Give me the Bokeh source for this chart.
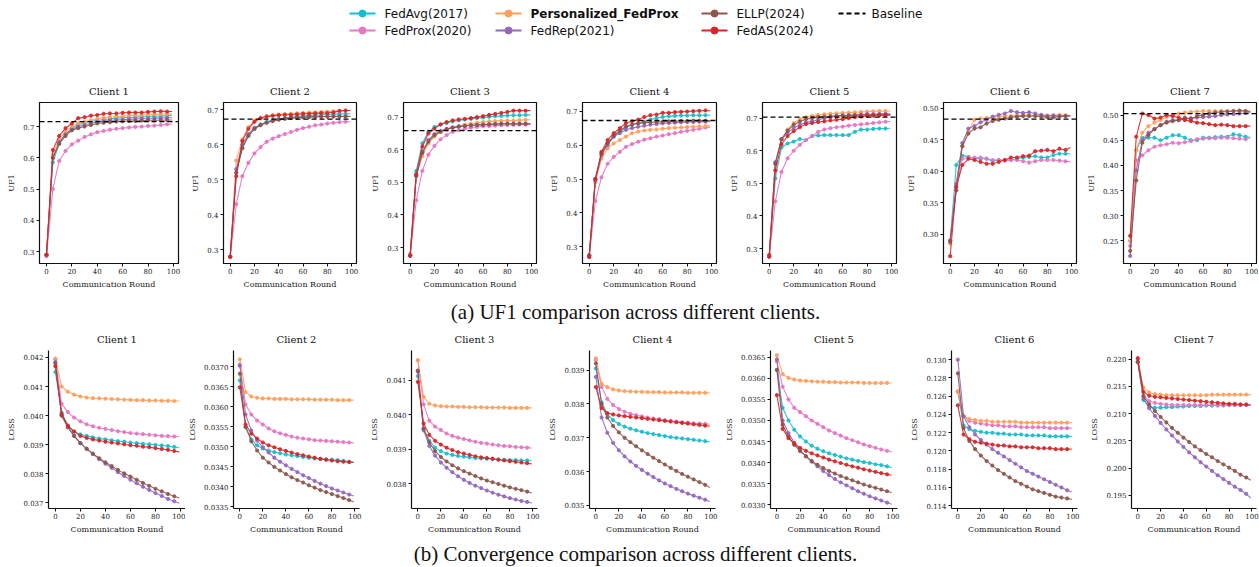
from bokeh.plotting import figure
from bokeh.layouts import column, row
from bokeh.models import Range1d, FixedTicker, NumeralTickFormatter, Span
from bokeh.core.properties import value
from bokeh.embed import file_html
from bokeh.resources import INLINE

# ---------------- data ----------------
ROUNDS = [0, 5, 10, 15, 20, 25, 30, 35, 40, 45, 50, 55, 60, 65, 70, 75, 80, 85, 90, 95, 99]
X_TICKS = [0, 20, 40, 60, 80, 100]
METHODS = ["FedAvg(2017)", "FedProx(2020)", "Personalized_FedProx", "FedRep(2021)", "ELLP(2024)", "FedAS(2024)"]
COLORS = ["#17becf", "#e377c2", "#ff9f5b", "#9467bd", "#8c564b", "#d62728"]
CLIENTS = ["Client 1", "Client 2", "Client 3", "Client 4", "Client 5", "Client 6", "Client 7"]
BASELINE_LABEL = "Baseline"
CAPTION_A = "(a) UF1 comparison across different clients."
CAPTION_B = "(b) Convergence comparison across different clients."

UF1_BASELINE = [0.716, 0.6725, 0.659, 0.6725, 0.703, 0.483, 0.503]

# UF1, Client 1 .. 7
UF1_C1_FEDAVG = [0.29, 0.585, 0.645, 0.675, 0.695, 0.705, 0.712, 0.716, 0.72, 0.722, 0.725, 0.727, 0.728, 0.729, 0.73, 0.731, 0.732, 0.733, 0.734, 0.735, 0.736]
UF1_C1_FEDPROX = [0.285, 0.50, 0.59, 0.622, 0.643, 0.655, 0.667, 0.675, 0.682, 0.686, 0.69, 0.693, 0.695, 0.697, 0.699, 0.70, 0.702, 0.703, 0.705, 0.707, 0.708]
UF1_C1_PFEDPROX = [0.29, 0.61, 0.66, 0.685, 0.70, 0.71, 0.715, 0.72, 0.725, 0.728, 0.73, 0.732, 0.733, 0.735, 0.736, 0.737, 0.738, 0.739, 0.74, 0.74, 0.74]
UF1_C1_FEDREP = [0.29, 0.60, 0.65, 0.675, 0.69, 0.70, 0.705, 0.71, 0.715, 0.717, 0.72, 0.721, 0.722, 0.723, 0.724, 0.725, 0.726, 0.727, 0.727, 0.728, 0.728]
UF1_C1_ELLP = [0.29, 0.60, 0.645, 0.67, 0.688, 0.695, 0.70, 0.705, 0.71, 0.712, 0.714, 0.716, 0.717, 0.718, 0.718, 0.719, 0.72, 0.72, 0.72, 0.721, 0.721]
UF1_C1_FEDAS = [0.29, 0.625, 0.67, 0.695, 0.71, 0.727, 0.73, 0.735, 0.737, 0.741, 0.742, 0.742, 0.744, 0.745, 0.745, 0.745, 0.747, 0.748, 0.749, 0.748, 0.748]

UF1_C2_FEDAVG = [0.28, 0.52, 0.59, 0.625, 0.645, 0.657, 0.665, 0.67, 0.673, 0.676, 0.678, 0.68, 0.682, 0.683, 0.684, 0.685, 0.686, 0.687, 0.687, 0.688, 0.688]
UF1_C2_FEDPROX = [0.28, 0.43, 0.51, 0.548, 0.575, 0.593, 0.608, 0.617, 0.624, 0.63, 0.636, 0.642, 0.647, 0.651, 0.655, 0.657, 0.66, 0.662, 0.664, 0.665, 0.665]
UF1_C2_PFEDPROX = [0.28, 0.555, 0.615, 0.65, 0.668, 0.677, 0.681, 0.684, 0.686, 0.687, 0.688, 0.689, 0.69, 0.691, 0.692, 0.693, 0.694, 0.695, 0.696, 0.697, 0.698]
UF1_C2_FEDREP = [0.28, 0.53, 0.60, 0.63, 0.648, 0.657, 0.663, 0.668, 0.672, 0.674, 0.676, 0.677, 0.678, 0.679, 0.68, 0.68, 0.68, 0.681, 0.681, 0.681, 0.681]
UF1_C2_ELLP = [0.28, 0.52, 0.59, 0.625, 0.645, 0.655, 0.662, 0.667, 0.671, 0.674, 0.676, 0.677, 0.678, 0.679, 0.679, 0.68, 0.68, 0.68, 0.68, 0.68, 0.68]
UF1_C2_FEDAS = [0.28, 0.51, 0.61, 0.645, 0.665, 0.675, 0.68, 0.682, 0.684, 0.685, 0.685, 0.686, 0.688, 0.688, 0.689, 0.69, 0.69, 0.692, 0.696, 0.697, 0.697]

UF1_C3_FEDAVG = [0.28, 0.535, 0.62, 0.655, 0.67, 0.677, 0.682, 0.687, 0.69, 0.693, 0.695, 0.697, 0.699, 0.701, 0.703, 0.704, 0.705, 0.706, 0.706, 0.707, 0.707]
UF1_C3_FEDPROX = [0.275, 0.445, 0.535, 0.585, 0.612, 0.632, 0.645, 0.655, 0.66, 0.665, 0.668, 0.67, 0.672, 0.673, 0.674, 0.675, 0.676, 0.676, 0.677, 0.677, 0.677]
UF1_C3_PFEDPROX = [0.28, 0.52, 0.58, 0.62, 0.64, 0.655, 0.663, 0.668, 0.673, 0.677, 0.68, 0.683, 0.685, 0.687, 0.688, 0.689, 0.69, 0.69, 0.691, 0.692, 0.692]
UF1_C3_FEDREP = [0.275, 0.52, 0.595, 0.63, 0.648, 0.658, 0.664, 0.668, 0.671, 0.673, 0.675, 0.676, 0.677, 0.678, 0.679, 0.679, 0.68, 0.68, 0.68, 0.68, 0.68]
UF1_C3_ELLP = [0.275, 0.52, 0.59, 0.625, 0.645, 0.655, 0.663, 0.668, 0.671, 0.673, 0.675, 0.676, 0.677, 0.678, 0.679, 0.68, 0.68, 0.68, 0.68, 0.68, 0.68]
UF1_C3_FEDAS = [0.275, 0.525, 0.61, 0.65, 0.665, 0.678, 0.685, 0.69, 0.693, 0.695, 0.697, 0.70, 0.703, 0.707, 0.71, 0.713, 0.716, 0.72, 0.72, 0.72, 0.72]

UF1_C4_FEDAVG = [0.275, 0.50, 0.575, 0.605, 0.625, 0.64, 0.652, 0.66, 0.665, 0.668, 0.675, 0.68, 0.683, 0.685, 0.686, 0.687, 0.687, 0.688, 0.688, 0.688, 0.688]
UF1_C4_FEDPROX = [0.27, 0.435, 0.505, 0.545, 0.565, 0.58, 0.595, 0.603, 0.61, 0.616, 0.62, 0.625, 0.628, 0.632, 0.635, 0.639, 0.642, 0.645, 0.648, 0.652, 0.653]
UF1_C4_PFEDPROX = [0.275, 0.49, 0.56, 0.59, 0.605, 0.615, 0.625, 0.635, 0.64, 0.643, 0.645, 0.646, 0.648, 0.65, 0.651, 0.652, 0.653, 0.654, 0.655, 0.656, 0.657]
UF1_C4_FEDREP = [0.275, 0.495, 0.57, 0.60, 0.625, 0.635, 0.645, 0.65, 0.654, 0.657, 0.66, 0.662, 0.664, 0.665, 0.666, 0.667, 0.668, 0.668, 0.669, 0.669, 0.67]
UF1_C4_ELLP = [0.275, 0.50, 0.575, 0.605, 0.628, 0.643, 0.655, 0.66, 0.664, 0.666, 0.667, 0.668, 0.669, 0.67, 0.67, 0.671, 0.671, 0.672, 0.672, 0.672, 0.672]
UF1_C4_FEDAS = [0.27, 0.50, 0.58, 0.615, 0.635, 0.65, 0.665, 0.67, 0.675, 0.683, 0.688, 0.69, 0.695, 0.695, 0.697, 0.698, 0.699, 0.70, 0.701, 0.702, 0.701]

UF1_C5_FEDAVG = [0.275, 0.515, 0.61, 0.622, 0.628, 0.636, 0.633, 0.645, 0.647, 0.648, 0.648, 0.648, 0.648, 0.648, 0.658, 0.665, 0.665, 0.667, 0.668, 0.668, 0.669]
UF1_C5_FEDPROX = [0.275, 0.445, 0.535, 0.577, 0.60, 0.618, 0.633, 0.645, 0.658, 0.665, 0.669, 0.672, 0.674, 0.677, 0.679, 0.681, 0.683, 0.685, 0.687, 0.689, 0.69]
UF1_C5_PFEDPROX = [0.28, 0.56, 0.635, 0.665, 0.685, 0.697, 0.703, 0.707, 0.71, 0.712, 0.714, 0.715, 0.716, 0.717, 0.718, 0.719, 0.72, 0.721, 0.722, 0.722, 0.722]
UF1_C5_FEDREP = [0.28, 0.565, 0.635, 0.655, 0.67, 0.68, 0.687, 0.69, 0.695, 0.70, 0.703, 0.706, 0.708, 0.709, 0.71, 0.711, 0.712, 0.712, 0.713, 0.713, 0.713]
UF1_C5_ELLP = [0.28, 0.56, 0.635, 0.662, 0.68, 0.69, 0.697, 0.70, 0.703, 0.705, 0.706, 0.707, 0.708, 0.708, 0.709, 0.709, 0.71, 0.71, 0.71, 0.71, 0.71]
UF1_C5_FEDAS = [0.275, 0.54, 0.62, 0.645, 0.66, 0.672, 0.682, 0.685, 0.688, 0.69, 0.693, 0.695, 0.697, 0.70, 0.703, 0.705, 0.707, 0.708, 0.709, 0.71, 0.71]

UF1_C6_FEDAVG = [0.29, 0.41, 0.425, 0.423, 0.42, 0.42, 0.42, 0.416, 0.418, 0.418, 0.418, 0.42, 0.422, 0.423, 0.424, 0.422, 0.422, 0.426, 0.428, 0.428, 0.428]
UF1_C6_FEDPROX = [0.29, 0.37, 0.42, 0.422, 0.422, 0.422, 0.42, 0.418, 0.418, 0.417, 0.418, 0.418, 0.416, 0.414, 0.416, 0.418, 0.418, 0.418, 0.417, 0.416, 0.415]
UF1_C6_PFEDPROX = [0.285, 0.38, 0.44, 0.465, 0.482, 0.484, 0.485, 0.486, 0.487, 0.488, 0.488, 0.489, 0.489, 0.49, 0.488, 0.489, 0.489, 0.489, 0.49, 0.489, 0.489]
UF1_C6_FEDREP = [0.29, 0.38, 0.445, 0.468, 0.472, 0.478, 0.482, 0.487, 0.49, 0.492, 0.496, 0.494, 0.493, 0.494, 0.492, 0.49, 0.488, 0.489, 0.488, 0.488, 0.488]
UF1_C6_ELLP = [0.288, 0.37, 0.44, 0.46, 0.468, 0.47, 0.476, 0.48, 0.482, 0.484, 0.486, 0.487, 0.488, 0.488, 0.488, 0.487, 0.486, 0.486, 0.487, 0.488, 0.488]
UF1_C6_FEDAS = [0.265, 0.375, 0.41, 0.42, 0.418, 0.415, 0.412, 0.412, 0.415, 0.418, 0.422, 0.422, 0.424, 0.425, 0.432, 0.433, 0.434, 0.432, 0.436, 0.434, 0.438]

UF1_C7_FEDAVG = [0.25, 0.43, 0.455, 0.455, 0.455, 0.45, 0.455, 0.46, 0.46, 0.455, 0.45, 0.45, 0.455, 0.455, 0.456, 0.457, 0.457, 0.462, 0.46, 0.457, 0.456]
UF1_C7_FEDPROX = [0.24, 0.41, 0.42, 0.43, 0.437, 0.44, 0.442, 0.445, 0.444, 0.446, 0.448, 0.452, 0.453, 0.454, 0.454, 0.455, 0.455, 0.454, 0.453, 0.452, 0.455]
UF1_C7_PFEDPROX = [0.25, 0.43, 0.465, 0.478, 0.485, 0.49, 0.496, 0.50, 0.503, 0.505, 0.506, 0.507, 0.508, 0.508, 0.508, 0.508, 0.508, 0.508, 0.508, 0.508, 0.508]
UF1_C7_FEDREP = [0.22, 0.39, 0.45, 0.465, 0.472, 0.48, 0.487, 0.49, 0.49, 0.492, 0.494, 0.495, 0.496, 0.497, 0.498, 0.50, 0.501, 0.502, 0.503, 0.504, 0.505]
UF1_C7_ELLP = [0.23, 0.37, 0.445, 0.46, 0.472, 0.48, 0.485, 0.488, 0.49, 0.495, 0.492, 0.498, 0.50, 0.503, 0.505, 0.506, 0.507, 0.508, 0.509, 0.508, 0.507]
UF1_C7_FEDAS = [0.26, 0.457, 0.503, 0.50, 0.493, 0.495, 0.50, 0.498, 0.495, 0.49, 0.488, 0.485, 0.484, 0.482, 0.48, 0.481, 0.48, 0.478, 0.478, 0.478, 0.478]

# LOSS, Client 1 .. 7
LOSS_C1_FEDAVG = [0.0415, 0.0401, 0.03965, 0.03945, 0.03935, 0.0393, 0.03925, 0.03921, 0.03918, 0.03915, 0.03912, 0.0391, 0.03907, 0.03905, 0.03903, 0.03901, 0.03899, 0.03897, 0.03895, 0.03892, 0.03889]
LOSS_C1_FEDPROX = [0.04195, 0.0404, 0.04012, 0.03993, 0.0398, 0.0397, 0.03963, 0.03958, 0.03954, 0.0395, 0.03946, 0.03943, 0.0394, 0.03938, 0.03936, 0.03934, 0.03932, 0.0393, 0.03929, 0.03928, 0.03927]
LOSS_C1_PFEDPROX = [0.04195, 0.041, 0.04082, 0.04072, 0.04066, 0.04062, 0.0406, 0.04059, 0.04058, 0.04057, 0.04056, 0.04055, 0.04054, 0.04053, 0.04053, 0.04052, 0.04052, 0.04051, 0.04051, 0.0405, 0.0405]
LOSS_C1_FEDREP = [0.04185, 0.04, 0.0396, 0.0393, 0.03905, 0.03885, 0.03867, 0.0385, 0.03834, 0.0382, 0.03805, 0.03792, 0.03779, 0.03767, 0.03755, 0.03744, 0.03733, 0.03723, 0.03713, 0.03705, 0.03698]
LOSS_C1_ELLP = [0.0418, 0.04, 0.0396, 0.0393, 0.03905, 0.03886, 0.03869, 0.03853, 0.03839, 0.03826, 0.03813, 0.03801, 0.0379, 0.03779, 0.03768, 0.03758, 0.03748, 0.03739, 0.0373, 0.03722, 0.03716]
LOSS_C1_FEDAS = [0.0417, 0.04005, 0.03965, 0.03945, 0.0393, 0.03923, 0.03918, 0.03914, 0.0391, 0.03907, 0.03904, 0.03901, 0.03898, 0.03896, 0.03893, 0.03891, 0.03888, 0.03885, 0.03882, 0.03878, 0.03875]

LOSS_C2_FEDAVG = [0.03665, 0.03548, 0.03518, 0.03503, 0.03495, 0.0349, 0.03486, 0.03483, 0.0348, 0.03478, 0.03476, 0.03474, 0.03472, 0.0347, 0.03469, 0.03468, 0.03467, 0.03466, 0.03464, 0.03462, 0.03461]
LOSS_C2_FEDPROX = [0.03705, 0.03605, 0.0358, 0.03565, 0.03555, 0.03545, 0.03538, 0.03533, 0.03529, 0.03525, 0.03522, 0.0352, 0.03518, 0.03516, 0.03515, 0.03514, 0.03513, 0.03512, 0.03511, 0.0351, 0.03509]
LOSS_C2_PFEDPROX = [0.03718, 0.03636, 0.03625, 0.03622, 0.0362, 0.0362, 0.03619, 0.03619, 0.03619, 0.03618, 0.03618, 0.03618, 0.03618, 0.03617, 0.03617, 0.03617, 0.03617, 0.03616, 0.03616, 0.03616, 0.03616]
LOSS_C2_FEDREP = [0.03702, 0.0358, 0.0354, 0.03515, 0.03498, 0.03485, 0.03472, 0.03462, 0.03453, 0.03444, 0.03436, 0.03428, 0.03421, 0.03414, 0.03407, 0.03401, 0.03395, 0.0339, 0.03385, 0.0338, 0.03376]
LOSS_C2_ELLP = [0.03682, 0.0355, 0.03513, 0.0349, 0.03472, 0.0346, 0.03449, 0.0344, 0.03431, 0.03423, 0.03416, 0.0341, 0.03403, 0.03397, 0.03391, 0.03386, 0.03381, 0.03376, 0.03371, 0.03366, 0.03361]
LOSS_C2_FEDAS = [0.03648, 0.03555, 0.03532, 0.0352, 0.0351, 0.03503, 0.03498, 0.03493, 0.03489, 0.03485, 0.03481, 0.03478, 0.03475, 0.03472, 0.03469, 0.03467, 0.03465, 0.03463, 0.03462, 0.03461, 0.0346]

LOSS_C3_FEDAVG = [0.04112, 0.0396, 0.03925, 0.03905, 0.03895, 0.03888, 0.03884, 0.03881, 0.03879, 0.03877, 0.03875, 0.03874, 0.03873, 0.03872, 0.03871, 0.0387, 0.03869, 0.03869, 0.03868, 0.03868, 0.03867]
LOSS_C3_FEDPROX = [0.04158, 0.0403, 0.03983, 0.03966, 0.03956, 0.03946, 0.03939, 0.03934, 0.0393, 0.03926, 0.03922, 0.03919, 0.03917, 0.03914, 0.03912, 0.0391, 0.03909, 0.03907, 0.03906, 0.03905, 0.03904]
LOSS_C3_PFEDPROX = [0.04158, 0.04052, 0.04032, 0.04027, 0.04025, 0.04024, 0.04024, 0.04023, 0.04023, 0.04022, 0.04022, 0.04022, 0.04021, 0.04021, 0.04021, 0.04021, 0.0402, 0.0402, 0.0402, 0.0402, 0.0402]
LOSS_C3_FEDREP = [0.04125, 0.03955, 0.0391, 0.03882, 0.03862, 0.03847, 0.03834, 0.03822, 0.03812, 0.03803, 0.03795, 0.03788, 0.03781, 0.03775, 0.03769, 0.03764, 0.03759, 0.03755, 0.03751, 0.03748, 0.03745]
LOSS_C3_ELLP = [0.04128, 0.0396, 0.0392, 0.03895, 0.03878, 0.03865, 0.03854, 0.03845, 0.03837, 0.0383, 0.03823, 0.03816, 0.0381, 0.03805, 0.038, 0.03795, 0.0379, 0.03786, 0.03782, 0.03778, 0.03774]
LOSS_C3_FEDAS = [0.04095, 0.03975, 0.03942, 0.03925, 0.03914, 0.03905, 0.03898, 0.03892, 0.03888, 0.03884, 0.0388, 0.03877, 0.03875, 0.03873, 0.0387, 0.03868, 0.03866, 0.03864, 0.03862, 0.0386, 0.03858]

LOSS_C4_FEDAVG = [0.03905, 0.03805, 0.0377, 0.03752, 0.03741, 0.03733, 0.03727, 0.03722, 0.03718, 0.03714, 0.03711, 0.03708, 0.03705, 0.03702, 0.037, 0.03698, 0.03696, 0.03694, 0.03692, 0.0369, 0.03688]
LOSS_C4_FEDPROX = [0.0393, 0.0385, 0.03815, 0.03797, 0.03785, 0.03777, 0.03771, 0.03767, 0.03763, 0.0376, 0.03757, 0.03755, 0.03752, 0.0375, 0.03748, 0.03746, 0.03745, 0.03743, 0.03742, 0.03741, 0.0374]
LOSS_C4_PFEDPROX = [0.03935, 0.0386, 0.0385, 0.03843, 0.0384, 0.03838, 0.03837, 0.03836, 0.03836, 0.03835, 0.03835, 0.03835, 0.03834, 0.03834, 0.03834, 0.03834, 0.03833, 0.03833, 0.03833, 0.03833, 0.03833]
LOSS_C4_FEDREP = [0.0388, 0.0376, 0.03715, 0.03685, 0.03663, 0.03645, 0.0363, 0.03617, 0.03605, 0.03594, 0.03584, 0.03574, 0.03565, 0.03557, 0.03549, 0.03542, 0.03535, 0.03529, 0.03523, 0.03517, 0.03512]
LOSS_C4_ELLP = [0.0392, 0.038, 0.0376, 0.03735, 0.03716, 0.037, 0.03687, 0.03675, 0.03663, 0.03652, 0.03641, 0.03631, 0.03621, 0.03611, 0.03602, 0.03593, 0.03585, 0.03577, 0.03569, 0.03561, 0.03553]
LOSS_C4_FEDAS = [0.0385, 0.03788, 0.03773, 0.03769, 0.03766, 0.03764, 0.03762, 0.0376, 0.03758, 0.03756, 0.03754, 0.03752, 0.0375, 0.03748, 0.03746, 0.03744, 0.03742, 0.0374, 0.03738, 0.03736, 0.03734]

LOSS_C5_FEDAVG = [0.0362, 0.0353, 0.035, 0.03478, 0.03462, 0.0345, 0.0344, 0.03433, 0.03427, 0.03422, 0.03418, 0.03414, 0.0341, 0.03407, 0.03404, 0.03401, 0.03399, 0.03396, 0.03394, 0.03391, 0.03388]
LOSS_C5_FEDPROX = [0.0364, 0.0358, 0.0355, 0.0353, 0.0352, 0.0351, 0.035, 0.03492, 0.03484, 0.03476, 0.0347, 0.03464, 0.03458, 0.03453, 0.03448, 0.03443, 0.03439, 0.03435, 0.03431, 0.03428, 0.03425]
LOSS_C5_PFEDPROX = [0.03655, 0.0361, 0.03601, 0.03597, 0.03595, 0.03594, 0.03593, 0.03592, 0.03592, 0.03591, 0.03591, 0.0359, 0.0359, 0.0359, 0.0359, 0.03589, 0.03589, 0.03589, 0.03589, 0.03589, 0.03589]
LOSS_C5_FEDREP = [0.03645, 0.035, 0.0347, 0.03447, 0.0343, 0.03415, 0.03402, 0.03391, 0.0338, 0.0337, 0.03361, 0.03353, 0.03346, 0.03339, 0.03332, 0.03326, 0.0332, 0.03315, 0.0331, 0.03305, 0.03301]
LOSS_C5_ELLP = [0.0362, 0.0349, 0.03462, 0.03442, 0.03427, 0.03415, 0.03404, 0.03395, 0.03387, 0.0338, 0.03374, 0.03368, 0.03363, 0.03358, 0.03353, 0.03348, 0.03344, 0.0334, 0.03336, 0.03332, 0.03329]
LOSS_C5_FEDAS = [0.0356, 0.0348, 0.03458, 0.03445, 0.03435, 0.03428, 0.03422, 0.03417, 0.03412, 0.03407, 0.03403, 0.03399, 0.03395, 0.03391, 0.03388, 0.03384, 0.03381, 0.03378, 0.03375, 0.03372, 0.0337]

LOSS_C6_FEDAVG = [0.1265, 0.1228, 0.1224, 0.1222, 0.1221, 0.122, 0.122, 0.1219, 0.1219, 0.1218, 0.1218, 0.1218, 0.1217, 0.1217, 0.1217, 0.1217, 0.1216, 0.1216, 0.1216, 0.1216, 0.1216]
LOSS_C6_FEDPROX = [0.1265, 0.1238, 0.1233, 0.1231, 0.123, 0.1229, 0.1228, 0.1228, 0.1227, 0.1227, 0.1227, 0.1226, 0.1226, 0.1226, 0.1226, 0.1226, 0.1225, 0.1225, 0.1225, 0.1225, 0.1225]
LOSS_C6_PFEDPROX = [0.1265, 0.1238, 0.1235, 0.1234, 0.1233, 0.1233, 0.1232, 0.1232, 0.1232, 0.1232, 0.1232, 0.1231, 0.1231, 0.1231, 0.1231, 0.1231, 0.1231, 0.1231, 0.1231, 0.1231, 0.1231]
LOSS_C6_FEDREP = [0.130, 0.1238, 0.1226, 0.1218, 0.1212, 0.1207, 0.1202, 0.1198, 0.1194, 0.119, 0.1186, 0.1182, 0.1178, 0.1175, 0.1172, 0.1169, 0.1166, 0.1163, 0.116, 0.1157, 0.1155]
LOSS_C6_ELLP = [0.1285, 0.1225, 0.1211, 0.1202, 0.1195, 0.1189, 0.1184, 0.1179, 0.1175, 0.1171, 0.1167, 0.1164, 0.1161, 0.1158, 0.1156, 0.1154, 0.1152, 0.115, 0.1149, 0.1148, 0.1147]
LOSS_C6_FEDAS = [0.125, 0.1218, 0.1213, 0.121, 0.1209, 0.1208, 0.1207, 0.1206, 0.1206, 0.1205, 0.1205, 0.1204, 0.1204, 0.1204, 0.1203, 0.1203, 0.1203, 0.1202, 0.1202, 0.1202, 0.1202]

LOSS_C7_FEDAVG = [0.2195, 0.2125, 0.2113, 0.2111, 0.2111, 0.2112, 0.2112, 0.2113, 0.2113, 0.2114, 0.2114, 0.2114, 0.2115, 0.2115, 0.2115, 0.2115, 0.2116, 0.2116, 0.2116, 0.2116, 0.2116]
LOSS_C7_FEDPROX = [0.22, 0.2133, 0.2123, 0.212, 0.2118, 0.2117, 0.2116, 0.2116, 0.2116, 0.2116, 0.2116, 0.2116, 0.2116, 0.2116, 0.2116, 0.2116, 0.2116, 0.2116, 0.2116, 0.2116, 0.2116]
LOSS_C7_PFEDPROX = [0.2195, 0.2148, 0.2139, 0.2136, 0.2135, 0.2134, 0.2134, 0.2134, 0.2134, 0.2134, 0.2134, 0.2134, 0.2134, 0.2135, 0.2135, 0.2135, 0.2135, 0.2135, 0.2135, 0.2135, 0.2135]
LOSS_C7_FEDREP = [0.2195, 0.2128, 0.211, 0.2096, 0.2083, 0.2071, 0.206, 0.2049, 0.2039, 0.2029, 0.202, 0.2011, 0.2003, 0.1995, 0.1987, 0.198, 0.1973, 0.1966, 0.196, 0.1953, 0.1945]
LOSS_C7_ELLP = [0.2195, 0.2132, 0.2117, 0.2105, 0.2094, 0.2084, 0.2074, 0.2065, 0.2056, 0.2048, 0.204, 0.2033, 0.2026, 0.202, 0.2013, 0.2007, 0.2001, 0.1995, 0.1988, 0.1983, 0.1978]
LOSS_C7_FEDAS = [0.2202, 0.214, 0.2133, 0.2131, 0.213, 0.2129, 0.2128, 0.2127, 0.2126, 0.2125, 0.2124, 0.2123, 0.2122, 0.2121, 0.212, 0.2119, 0.2118, 0.2118, 0.2117, 0.2117, 0.2116]

# axis ranges and tick values
UF1_YRANGES = [(0.262, 0.777), (0.261, 0.72), (0.251, 0.745), (0.251, 0.7255), (0.254, 0.748), (0.2534, 0.5095), (0.205, 0.525)]
UF1_YTICKS = [[0.3, 0.4, 0.5, 0.6, 0.7]] * 5 + [[0.30, 0.35, 0.40, 0.45, 0.50], [0.25, 0.30, 0.35, 0.40, 0.45, 0.50]]
UF1_YFMT = ["0.0"] * 5 + ["0.00", "0.00"]
LOSS_YRANGES = [(0.0368, 0.04224), (0.03345, 0.0374), (0.03729, 0.04186), (0.03491, 0.03958), (0.03291, 0.03666), (0.1137, 0.131), (0.1926, 0.2216)]
LOSS_YTICKS = [
    [0.037, 0.038, 0.039, 0.040, 0.041, 0.042],
    [0.0335, 0.0340, 0.0345, 0.0350, 0.0355, 0.0360, 0.0365, 0.0370],
    [0.038, 0.039, 0.040, 0.041],
    [0.035, 0.036, 0.037, 0.038, 0.039],
    [0.0330, 0.0335, 0.0340, 0.0345, 0.0350, 0.0355, 0.0360, 0.0365],
    [0.114, 0.116, 0.118, 0.120, 0.122, 0.124, 0.126, 0.128, 0.130],
    [0.195, 0.200, 0.205, 0.210, 0.215, 0.220],
]
LOSS_YFMT = ["0.000", "0.0000", "0.000", "0.000", "0.0000", "0.000", "0.000"]

UF1 = [
    [UF1_C1_FEDAVG, UF1_C1_FEDPROX, UF1_C1_PFEDPROX, UF1_C1_FEDREP, UF1_C1_ELLP, UF1_C1_FEDAS],
    [UF1_C2_FEDAVG, UF1_C2_FEDPROX, UF1_C2_PFEDPROX, UF1_C2_FEDREP, UF1_C2_ELLP, UF1_C2_FEDAS],
    [UF1_C3_FEDAVG, UF1_C3_FEDPROX, UF1_C3_PFEDPROX, UF1_C3_FEDREP, UF1_C3_ELLP, UF1_C3_FEDAS],
    [UF1_C4_FEDAVG, UF1_C4_FEDPROX, UF1_C4_PFEDPROX, UF1_C4_FEDREP, UF1_C4_ELLP, UF1_C4_FEDAS],
    [UF1_C5_FEDAVG, UF1_C5_FEDPROX, UF1_C5_PFEDPROX, UF1_C5_FEDREP, UF1_C5_ELLP, UF1_C5_FEDAS],
    [UF1_C6_FEDAVG, UF1_C6_FEDPROX, UF1_C6_PFEDPROX, UF1_C6_FEDREP, UF1_C6_ELLP, UF1_C6_FEDAS],
    [UF1_C7_FEDAVG, UF1_C7_FEDPROX, UF1_C7_PFEDPROX, UF1_C7_FEDREP, UF1_C7_ELLP, UF1_C7_FEDAS],
]
LOSS = [
    [LOSS_C1_FEDAVG, LOSS_C1_FEDPROX, LOSS_C1_PFEDPROX, LOSS_C1_FEDREP, LOSS_C1_ELLP, LOSS_C1_FEDAS],
    [LOSS_C2_FEDAVG, LOSS_C2_FEDPROX, LOSS_C2_PFEDPROX, LOSS_C2_FEDREP, LOSS_C2_ELLP, LOSS_C2_FEDAS],
    [LOSS_C3_FEDAVG, LOSS_C3_FEDPROX, LOSS_C3_PFEDPROX, LOSS_C3_FEDREP, LOSS_C3_ELLP, LOSS_C3_FEDAS],
    [LOSS_C4_FEDAVG, LOSS_C4_FEDPROX, LOSS_C4_PFEDPROX, LOSS_C4_FEDREP, LOSS_C4_ELLP, LOSS_C4_FEDAS],
    [LOSS_C5_FEDAVG, LOSS_C5_FEDPROX, LOSS_C5_PFEDPROX, LOSS_C5_FEDREP, LOSS_C5_ELLP, LOSS_C5_FEDAS],
    [LOSS_C6_FEDAVG, LOSS_C6_FEDPROX, LOSS_C6_PFEDPROX, LOSS_C6_FEDREP, LOSS_C6_ELLP, LOSS_C6_FEDAS],
    [LOSS_C7_FEDAVG, LOSS_C7_FEDPROX, LOSS_C7_PFEDPROX, LOSS_C7_FEDREP, LOSS_C7_ELLP, LOSS_C7_FEDAS],
]

# ---------------- layout constants ----------------
TOTAL_W = 1259
TOP_W = [188, 180, 179, 180, 176, 180, 176]
TOP_L = [39, 31, 31, 31, 31, 35, 35]
TOP_FW = [139, 137, 137, 138, 138, 138, 138]
BOT_W = [185, 182, 178, 177, 185, 180, 172]
BOT_L = [48, 42, 38, 38, 43, 38, 38]
BOT_FW = [137, 132, 132, 132, 132, 132, 131]

SERIF = "DejaVu Serif"
TEXT_COL = "#222222"


def panel(title, ylabel, series, yrange, yticks, yfmt, baseline, width, left, fw, height, top, bottom, boxed):
    p = figure(width=width, height=height, output_backend="svg", toolbar_location=None,
               x_range=Range1d(-5.5, 104), y_range=Range1d(*yrange), title=title,
               min_border_left=left, min_border_right=max(width - left - fw, 0),
               min_border_top=top, min_border_bottom=bottom)
    p.title.align = "center"
    p.title.text_font = SERIF
    p.title.text_font_size = "10px"
    p.title.text_font_style = "normal"
    p.title.text_color = "#111111"
    p.title.standoff = 11
    p.grid.visible = False
    p.background_fill_color = "white"
    p.border_fill_color = "white"
    if boxed:
        p.outline_line_color = "#111111"
        p.outline_line_width = 1.2
        p.outline_line_alpha = 1.0
    else:
        p.outline_line_color = None
    p.xaxis.ticker = FixedTicker(ticks=X_TICKS)
    p.yaxis.ticker = FixedTicker(ticks=yticks)
    p.yaxis.formatter = NumeralTickFormatter(format=yfmt)
    p.xaxis.axis_label = "Communication Round"
    p.yaxis.axis_label = ylabel
    for ax in (p.xaxis[0], p.yaxis[0]):
        ax.axis_label_text_font = SERIF
        ax.axis_label_text_font_size = "8px"
        ax.axis_label_text_font_style = "normal"
        ax.axis_label_text_color = TEXT_COL
        ax.major_label_text_font = SERIF
        ax.major_label_text_font_size = "7px"
        ax.major_label_text_color = TEXT_COL
        ax.major_tick_in = 0
        ax.major_tick_out = 3
        ax.major_tick_line_color = "#111111"
        ax.minor_tick_line_color = None
        ax.axis_line_color = "#111111"
        ax.axis_line_width = 1.2 if not boxed else 1.0
    p.xaxis[0].major_label_standoff = 1
    p.xaxis[0].axis_label_standoff = 3
    p.yaxis[0].major_label_standoff = 2
    p.yaxis[0].axis_label_standoff = 4
    for vals, color in zip(series, COLORS):
        p.line(ROUNDS, vals, line_color=color, line_width=1.1, line_alpha=0.9)
        p.scatter(ROUNDS[:-1], vals[:-1], size=3.2, fill_color=color, line_color=color, alpha=0.9)
    if baseline is not None:
        p.add_layout(Span(location=baseline, dimension="width", line_color="black",
                          line_dash="5 3", line_width=1.3))
    return p


top_figs = []
for i in range(7):
    top_figs.append(panel(CLIENTS[i], "UF1", UF1[i], UF1_YRANGES[i], UF1_YTICKS[i], UF1_YFMT[i],
                          UF1_BASELINE[i], TOP_W[i], TOP_L[i], TOP_FW[i], 218, 24, 33, True))

bot_figs = []
for i in range(7):
    bot_figs.append(panel(CLIENTS[i], "LOSS", LOSS[i], LOSS_YRANGES[i], LOSS_YTICKS[i], LOSS_YFMT[i],
                          None, BOT_W[i], BOT_L[i], BOT_FW[i], 215, 22, 33, False))


def blank(h):
    f = figure(width=TOTAL_W, height=h, output_backend="svg", toolbar_location=None,
               x_range=Range1d(0, TOTAL_W), y_range=Range1d(h, 0),
               x_axis_type=None, y_axis_type=None, min_border=0)
    f.grid.visible = False
    f.outline_line_color = None
    return f


# legend strip
LEG_H = 78
leg = blank(LEG_H)
LEG_COL_X = [349, 495, 701, 838]
LEG_ROW_Y = [13, 30]
entries = [(METHODS[0], COLORS[0], 0, 0), (METHODS[1], COLORS[1], 0, 1),
           (METHODS[2], COLORS[2], 1, 0), (METHODS[3], COLORS[3], 1, 1),
           (METHODS[4], COLORS[4], 2, 0), (METHODS[5], COLORS[5], 2, 1)]
for name, color, c, r in entries:
    x0 = LEG_COL_X[c]
    y = LEG_ROW_Y[r]
    leg.segment(x0=[x0], y0=[y], x1=[x0 + 26], y1=[y], line_color=color, line_width=2)
    leg.scatter([x0 + 13], [y], size=7, fill_color=color, line_color=color)
    leg.text([x0 + 35], [y], text=[name], text_font=value("DejaVu Sans"), text_font_size="12px",
             text_baseline="middle", text_align="left", text_color="#111111",
             text_font_style="bold" if name == "Personalized_FedProx" else "normal")
bx = LEG_COL_X[3]
by = LEG_ROW_Y[0]
leg.segment(x0=[bx], y0=[by], x1=[bx + 27], y1=[by], line_color="black", line_width=2, line_dash="5 3")
leg.text([bx + 33], [by], text=[BASELINE_LABEL], text_font=value("DejaVu Sans"), text_font_size="12px",
         text_baseline="middle", text_align="left", text_color="#111111")


def caption(txt, h, yc):
    f = blank(h)
    f.text([635], [yc], text=[txt], text_font=value("Liberation Serif"), text_font_size="21px",
           text_baseline="middle", text_align="center", text_color="#111111")
    return f


cap_a = caption(CAPTION_A, 30, 15)
cap_b = caption(CAPTION_B, 25, 12)

layout = column(leg, row(*top_figs), cap_a, row(*bot_figs), cap_b)
open("out.html", "w").write(file_html(layout, INLINE))
